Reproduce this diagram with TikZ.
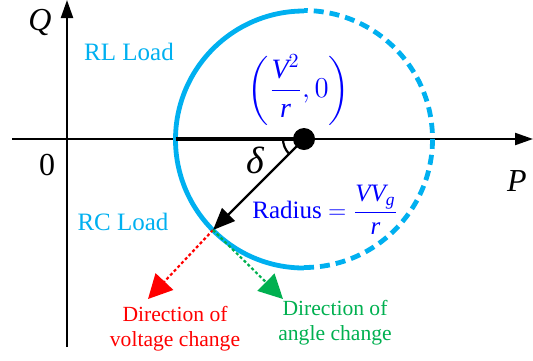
\documentclass[tikz,border=0pt]{standalone}
\usepackage{amsmath}
\usepackage{fontspec}
\setmainfont{Liberation Serif}
\usepackage{xcolor}
\usetikzlibrary{arrows.meta, positioning, calc}

\definecolor{loadcyan}{RGB}{0,176,240}
\definecolor{dirgreen}{RGB}{0,176,80}
\newcommand{\vit}[1]{\textit{#1}}

\begin{document}
\begin{tikzpicture}[
    x=0.5pt, y=-0.5pt,
    axis/.style={line width=1.1pt, -{Triangle[length=9pt, width=6pt]}},
    loadtxt/.style={text=loadcyan, font=\fontsize{12.5}{15}\selectfont},
    dirtxt/.style={align=center, font=\fontsize{10.8}{12.5}\selectfont, inner sep=0pt},
    dirarrow/.style={line width=1.1pt, dash pattern=on 1.5pt off 1.2pt, -{Triangle[length=12pt, width=12pt]}}
]
\useasboundingbox (0,0) rectangle (533,360);

% Axes
\coordinate (xs) at (12,139);
\coordinate (xe) at (533,139);
\coordinate (ys) at (67,347);
\coordinate (ye) at (67,0);
\draw[axis] (xs) -- (xe);
\draw[axis] (ys) -- (ye);
\node (qlab) at (40,22) {\fontsize{16}{18}\selectfont\textit{Q}};
\node (zero) at (47,165) {\fontsize{16}{18}\selectfont 0};
\node (plab) at (517,181) {\fontsize{16}{18}\selectfont\textit{P}};

% Circle centre and radius point
\coordinate (c) at (304,139);
\coordinate (left) at (175.5,139);
\coordinate (rc) at (213,230);

% Circle: solid left half, dashed right half
\draw[loadcyan, line width=2.4pt] (304,11) arc[start angle=270, end angle=90, radius=128.5];
\draw[loadcyan, line width=2.4pt, dash pattern=on 5pt off 3pt] (304,267.5) arc[start angle=90, end angle=-90, radius=128.5];

% Thick segment to centre
\draw[line width=2.2pt] (left) -- (c);
\fill (c) circle[radius=5.5pt];

% Radius arrow and angle
\draw[line width=1.1pt, -{Triangle[length=11pt, width=9pt]}] (c) -- (rc);
\draw[line width=1.1pt] ($(c)+(-21,0)$) arc[start angle=180, end angle=135, radius=21];
\node (delta) at (256,160) {\fontsize{19}{21}\selectfont\textit{δ}};

% Labels
\node[loadtxt] (rl) at (129,52) {RL Load};
\node[loadtxt] (rcl) at (123,222) {RC Load};
\node[text=blue, font=\fontsize{14}{16}\selectfont] (cen) at (299,90) {$\left(\dfrac{\vit{V}^{2}}{\vit{r}},0\right)$};
\node[text=blue, font=\fontsize{12.5}{15}\selectfont, anchor=west, inner sep=0pt] (rad) at (252,210) {Radius $=\dfrac{\vit{VV}_{\vit{g}}}{\vit{r}}$};

% Directions
\coordinate (vtip) at (148,299);
\coordinate (atip) at (283,299);
\draw[dirarrow, red] (rc) -- (vtip);
\draw[dirarrow, dirgreen] (rc) -- (atip);
\node[dirtxt, text=red] (vdir) at (175,329) {Direction of\\voltage change};
\node[dirtxt, text=dirgreen] (adir) at (335,323) {Direction of\\angle change};

\end{tikzpicture}
\end{document}
